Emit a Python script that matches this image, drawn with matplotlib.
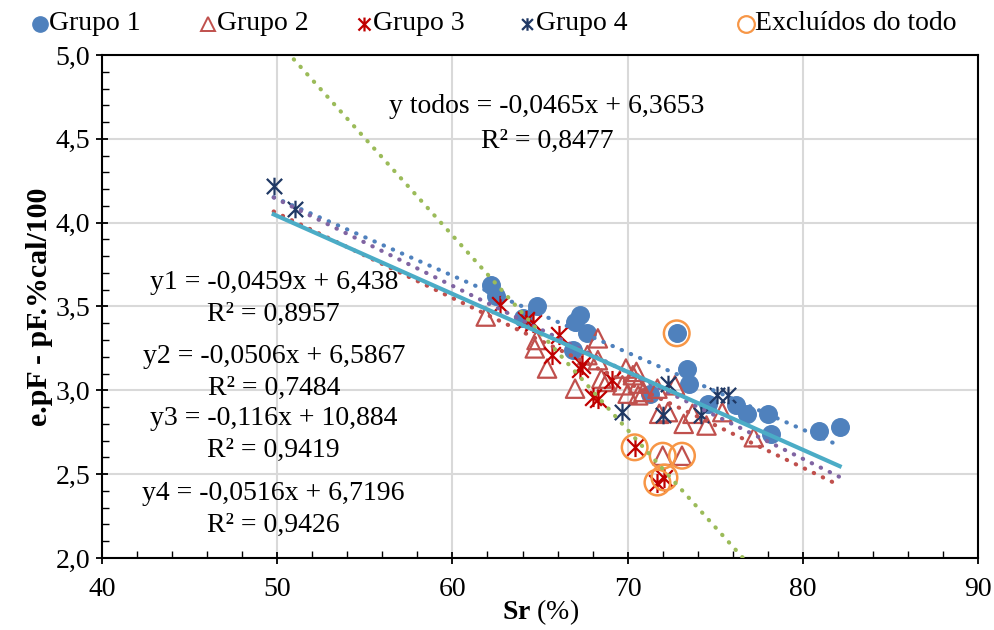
import matplotlib
matplotlib.use('Agg')
import matplotlib.pyplot as plt
import numpy as np
from matplotlib.path import Path
from matplotlib.lines import Line2D
from matplotlib.ticker import MultipleLocator, FuncFormatter

plt.rcParams['font.family'] = ['Liberation Serif', 'DejaVu Serif']
plt.rcParams['mathtext.fontset'] = 'custom'
plt.rcParams['mathtext.rm'] = 'Liberation Serif'
plt.rcParams['mathtext.bf'] = 'Liberation Serif:bold'

# data
g1_x = [62.2, 62.5, 64.0, 64.8, 66.9, 67.0, 67.3, 67.7, 71.3, 72.8, 73.4, 73.5, 74.6, 76.2, 76.8, 78.0, 78.2, 80.9, 82.1]
g1_y = [3.63, 3.56, 3.43, 3.50, 3.24, 3.41, 3.45, 3.34, 2.98, 3.34, 3.13, 3.04, 2.92, 2.91, 2.86, 2.86, 2.74, 2.76, 2.78]

g2_x = [61.9, 64.7, 64.8, 65.4, 67.0, 68.3, 67.7, 68.3, 68.8, 68.5, 69.9, 70.0, 70.3, 69.7, 70.6, 70.5,
        70.6, 70.9, 71.7, 71.8, 72.7, 72.3, 73.2, 73.7, 74.5, 75.4, 77.2, 72.0, 73.1]
g2_y = [3.44, 3.25, 3.30, 3.13, 3.01, 3.31, 3.21, 3.18, 3.05, 3.07, 3.13, 2.98, 3.09, 3.03, 3.04, 3.11,
        2.97, 2.99, 3.01, 2.86, 3.03, 2.87, 2.80, 2.86, 2.79, 2.87, 2.72, 2.61, 2.61]

g3_x = [62.7, 64.2, 64.6, 66.1, 65.7, 67.3, 67.4, 68.0, 68.3, 69.1, 70.4, 71.7, 72.1]
g3_y = [3.51, 3.42, 3.40, 3.33, 3.21, 3.13, 3.15, 2.96, 2.95, 3.06, 2.66, 2.45, 2.48]

g4_x = [49.8, 51.0, 69.7, 72.0, 72.3, 74.2, 75.1, 75.7]
g4_y = [4.22, 4.08, 2.87, 2.85, 3.04, 2.85, 2.97, 2.97]

exc_x = [72.8, 70.4, 71.7, 72.1, 72.0, 73.1]
exc_y = [3.34, 2.66, 2.45, 2.48, 2.61, 2.61]

# trend lines (slope, intercept)
fit_todos = (-0.0465, 6.3653)
fit1 = (-0.0459, 6.438)
fit2 = (-0.0506, 6.5867)
fit3 = (-0.116, 10.884)
fit4 = (-0.0516, 6.7196)

labels = ['Grupo 1', 'Grupo 2', 'Grupo 3', 'Grupo 4', 'Excluídos do todo']

star = Path([(-1, -1), (1, 1), (-1, 1), (1, -1), (0, -1.15), (0, 1.15)],
            [Path.MOVETO, Path.LINETO, Path.MOVETO, Path.LINETO, Path.MOVETO, Path.LINETO])

c_blue = '#4F81BD'
c_red = '#C0504D'
c_dred = '#C00000'
c_navy = '#1F3864'
c_orange = '#F79646'

fig = plt.figure(figsize=(9.95, 6.3), dpi=100)
ax = fig.add_axes([0.1025, 0.1143, 0.8805, 0.7984])

ax.scatter(g1_x, g1_y, s=160, color=c_blue, zorder=3)
ax.scatter(g2_x, g2_y, s=175, marker='^', facecolor='none', edgecolor=c_red, linewidth=1.6, zorder=3)
ax.scatter(g3_x, g3_y, s=190, marker=star, color=c_dred, linewidth=1.6, zorder=3)
ax.scatter(g4_x, g4_y, s=160, marker=star, color=c_navy, linewidth=1.6, zorder=3)
ax.scatter(exc_x, exc_y, s=340, facecolor='none', edgecolor=c_orange, linewidth=1.8, zorder=3)

dots = (0, (0.1, 2.3))
xx = np.array([49.8, 82.1])
ax.plot(xx, fit1[0] * xx + fit1[1], color=c_blue, ls=dots, lw=3, dash_capstyle='round', zorder=4)
xr = np.array([49.8, 81.8])
ax.plot(xr, fit2[0] * xr + fit2[1], color=c_red, ls=dots, lw=3, dash_capstyle='round', zorder=4)
ax.plot(xx, fit4[0] * xx + fit4[1], color='#8064A2', ls=dots, lw=3, dash_capstyle='round', zorder=4)
ax.plot(xx, fit3[0] * xx + fit3[1], color='#9BBB59', ls=dots, lw=3, dash_capstyle='round', zorder=4)
ax.plot(xx, fit_todos[0] * xx + fit_todos[1], color='#4BACC6', lw=3, zorder=5)

ax.set_xlim(40, 90)
ax.set_ylim(2.0, 5.0)
ax.xaxis.set_major_locator(MultipleLocator(10))
ax.xaxis.set_minor_locator(MultipleLocator(2))
ax.yaxis.set_major_locator(MultipleLocator(0.5))
ax.yaxis.set_minor_locator(MultipleLocator(0.1))
ax.yaxis.set_major_formatter(FuncFormatter(lambda v, p: f'{v:.1f}'.replace('.', ',')))
ax.tick_params(which='major', direction='inout', length=9, width=1.3, labelsize=20, pad=4)
ax.tick_params(which='minor', direction='in', length=5, width=1.0)
ax.tick_params(axis='x', which='major', pad=9)
ax.grid(True, which='major', color='#D9D9D9', lw=1.5, zorder=0)
ax.set_axisbelow(True)
for sp in ax.spines.values():
    sp.set_linewidth(1.5)
    sp.set_color('black')

ax.set_xlabel(r'$\mathbf{Sr}$ (%)', fontsize=20, labelpad=-3)
ax.set_ylabel('e.pF - pF.%cal/100', fontsize=21.5, fontweight='bold', labelpad=2)

fs = 20
ax.text(65.4, 4.59, 'y todos = -0,0465x + 6,3653\nR² = 0,8477', fontsize=fs, ha='center', va='center',
        linespacing=1.5, zorder=6)
for ypos, txt in [(3.55, 'y1 = -0,0459x + 6,438\nR² = 0,8957'),
                  (3.106, 'y2 = -0,0506x + 6,5867\nR² = 0,7484'),
                  (2.736, 'y3 = -0,116x + 10,884\nR² = 0,9419'),
                  (2.289, 'y4 = -0,0516x + 6,7196\nR² = 0,9426')]:
    ax.text(49.8, ypos, txt, fontsize=fs, ha='center', va='center',
            multialignment='center', linespacing=1.36, zorder=6)

# legend placed by hand
leg_x = [40, 208, 364, 527, 746]
leg_y = 1 - 24 / 630
handles = [dict(marker='o', color=c_blue, mfc=c_blue, ms=11),
           dict(marker='^', color=c_red, mfc='none', ms=10, mew=1.4),
           dict(marker=star, color=c_dred, ms=10, mew=1.6),
           dict(marker=star, color=c_navy, ms=9, mew=1.6),
           dict(marker='o', color=c_orange, mfc='none', ms=12, mew=1.6)]
for px, lab, h in zip(leg_x, labels, handles):
    fig.add_artist(Line2D([px / 995], [leg_y], ls='none', transform=fig.transFigure, **h))
    fig.text((px + 9) / 995, leg_y, lab, fontsize=20, ha='left', va='center')

fig.savefig('out.png', dpi=100)
